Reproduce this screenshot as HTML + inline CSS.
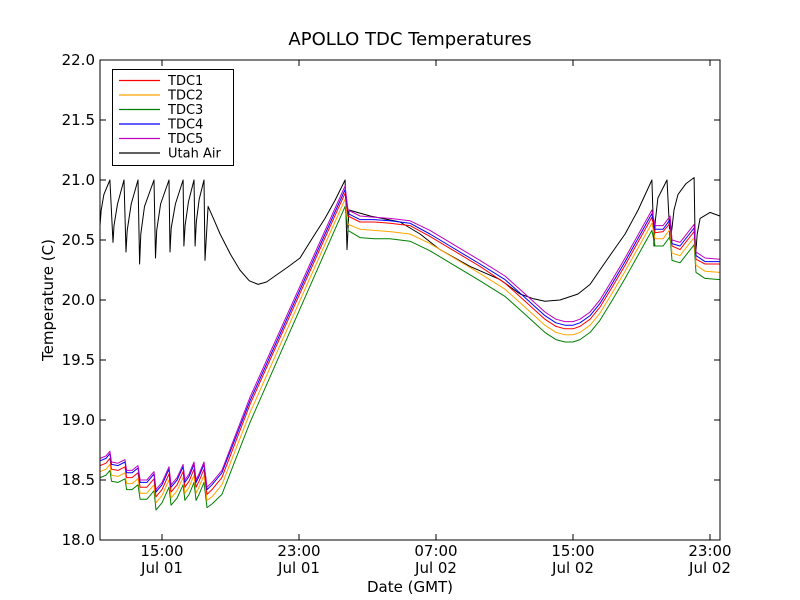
<!DOCTYPE html>
<html><head><meta charset="utf-8"><style>
html,body{margin:0;padding:0;background:#fff;}
svg{display:block;font-family:"DejaVu Sans","Liberation Sans",sans-serif;}
</style></head><body>
<svg id="chart" width="800" height="600" viewBox="0 0 800 600">
<rect width="800" height="600" fill="#fff"/>
<text x="410" y="45" font-size="18" text-anchor="middle">APOLLO TDC Temperatures</text>
<g id="plot"></g>
<rect x="100" y="60" width="620" height="480" fill="none" stroke="#000" stroke-width="1"/>
<g id="axes"></g>
<text x="410" y="592" font-size="15" text-anchor="middle">Date (GMT)</text>
<text transform="translate(53,300) rotate(-90)" font-size="15" text-anchor="middle">Temperature (C)</text>
<g id="legend"></g>
</svg>
<script>
const tdcHours=[11.38,11.73,11.96,12.05,12.43,12.84,12.93,13.25,13.60,13.72,14.12,14.53,14.65,15.00,15.41,15.53,15.88,16.23,16.34,16.58,16.87,16.99,17.16,17.45,17.63,17.92,18.5,20.14,25.69,25.86,26.56,27.4,28.31,29.48,30.65,31.82,33.57,35.03,36.20,37.36,38.0,38.53,39.0,39.41,40.0,40.57,41.3,42.04,43.61,43.79,44.26,44.67,44.78,45.25,46.07,46.18,46.71,47.58];
const tdc5=[18.68,18.70,18.74,18.65,18.64,18.67,18.58,18.58,18.62,18.50,18.50,18.57,18.42,18.48,18.61,18.46,18.52,18.63,18.50,18.55,18.65,18.50,18.55,18.65,18.44,18.48,18.58,19.19,20.95,20.75,20.70,20.69,20.68,20.66,20.58,20.48,20.33,20.20,20.05,19.90,19.84,19.82,19.82,19.84,19.90,20.00,20.17,20.35,20.75,20.62,20.62,20.70,20.50,20.48,20.63,20.40,20.35,20.34];
const tdc4=[18.66,18.68,18.72,18.63,18.62,18.65,18.56,18.56,18.60,18.48,18.48,18.55,18.40,18.46,18.59,18.44,18.50,18.61,18.48,18.53,18.63,18.48,18.53,18.63,18.42,18.46,18.56,19.16,20.92,20.72,20.67,20.67,20.66,20.64,20.55,20.45,20.30,20.17,20.02,19.87,19.81,19.79,19.79,19.81,19.87,19.97,20.14,20.32,20.72,20.59,20.59,20.67,20.47,20.45,20.60,20.37,20.32,20.32];
const tdc1=[18.62,18.64,18.68,18.59,18.58,18.61,18.52,18.52,18.56,18.44,18.44,18.51,18.36,18.42,18.55,18.40,18.46,18.57,18.44,18.49,18.59,18.44,18.49,18.59,18.38,18.42,18.52,19.13,20.89,20.70,20.65,20.65,20.64,20.62,20.53,20.43,20.28,20.14,19.99,19.84,19.78,19.76,19.76,19.78,19.84,19.94,20.11,20.29,20.69,20.56,20.57,20.64,20.45,20.42,20.57,20.34,20.30,20.30];
const tdc2=[18.57,18.59,18.63,18.54,18.53,18.56,18.47,18.47,18.51,18.39,18.39,18.46,18.31,18.37,18.50,18.35,18.41,18.52,18.39,18.44,18.54,18.39,18.44,18.54,18.33,18.36,18.46,19.06,20.84,20.63,20.59,20.58,20.57,20.55,20.47,20.37,20.22,20.09,19.94,19.79,19.73,19.71,19.71,19.73,19.79,19.89,20.06,20.24,20.64,20.51,20.51,20.59,20.39,20.37,20.52,20.29,20.24,20.23];
const tdc3=[18.52,18.54,18.58,18.49,18.48,18.51,18.42,18.42,18.46,18.34,18.34,18.41,18.25,18.31,18.44,18.29,18.35,18.46,18.33,18.38,18.48,18.33,18.38,18.48,18.27,18.30,18.38,18.98,20.78,20.58,20.52,20.51,20.51,20.49,20.41,20.31,20.16,20.03,19.88,19.73,19.67,19.65,19.65,19.67,19.73,19.83,20.00,20.18,20.58,20.45,20.45,20.53,20.33,20.31,20.46,20.23,20.18,20.17];
const airHours=[11.38,11.45,11.61,11.96,12.14,12.20,12.40,12.78,12.90,12.97,13.2,13.60,13.69,13.76,13.98,14.53,14.62,14.69,14.92,15.41,15.47,15.54,15.78,16.23,16.28,16.35,16.55,16.87,16.93,17.0,17.17,17.45,17.51,17.69,18.0,18.39,19.0,19.55,20.1,20.61,21.1,21.60,22.3,23.06,23.8,24.52,25.1,25.69,25.80,25.92,27.15,28.9,30.07,31.23,32.99,34.74,35.91,36.7,37.36,38.24,39.29,40.0,40.57,41.3,42.04,42.8,43.61,43.73,43.8,43.96,44.49,44.67,44.78,44.9,45.13,45.6,46.07,46.15,46.25,46.42,47.00,47.58];
const utahAir=[20.62,20.75,20.88,21.0,20.48,20.62,20.80,21.0,20.40,20.58,20.80,21.0,20.30,20.55,20.78,21.0,20.35,20.58,20.80,21.0,20.40,20.60,20.80,21.0,20.45,20.62,20.82,21.0,20.45,20.65,20.84,21.0,20.33,20.78,20.68,20.55,20.38,20.25,20.16,20.13,20.15,20.2,20.27,20.35,20.52,20.68,20.83,21.0,20.42,20.75,20.70,20.65,20.55,20.42,20.28,20.17,20.05,20.01,19.99,20.0,20.05,20.13,20.25,20.4,20.55,20.75,21.0,20.45,20.65,20.85,21.0,20.5,20.6,20.75,20.88,20.97,21.02,20.35,20.55,20.68,20.73,20.70];
const yTicks=[18.0,18.5,19.0,19.5,20.0,20.5,21.0,21.5,22.0];
const xTickHours=[15,23,31,39,47];
const xTickTimes=["15:00","23:00","07:00","15:00","23:00"];
const xTickDates=["Jul 01","Jul 01","Jul 02","Jul 02","Jul 02"];
const seriesNames=["TDC1","TDC2","TDC3","TDC4","TDC5","Utah Air"];
const seriesColors=["#ff0000","#ffa500","#008000","#0000ff","#bf00bf","#000000"];

const NS="http://www.w3.org/2000/svg";
const X=h=>162+(h-15)*17.125;
const Y=t=>540-(t-18)*120;
function mk(tag,attrs,parent){const e=document.createElementNS(NS,tag);for(const k in attrs)e.setAttribute(k,attrs[k]);parent.appendChild(e);return e;}
const plot=document.getElementById('plot');
const axes=document.getElementById('axes');
const leg=document.getElementById('legend');

const series=[[tdcHours,tdc1],[tdcHours,tdc2],[tdcHours,tdc3],[tdcHours,tdc4],[tdcHours,tdc5],[airHours,utahAir]];
const drawOrder=[5,2,1,0,3,4];
drawOrder.forEach(i=>{
  const [hs,vs]=series[i];
  const d=hs.map((h,j)=>(j?'L':'M')+X(h).toFixed(1)+','+Y(vs[j]).toFixed(1)).join('');
  const p=mk('path',{d:d,fill:'none',stroke:seriesColors[i],'stroke-width':1,'stroke-linejoin':'round'},plot);
  
  
});

yTicks.forEach(t=>{
  const y=Y(t);
  const a=mk('line',{x1:100,x2:106,y1:y,y2:y,stroke:'#000'},axes);
  
  
  const b=mk('line',{x1:714,x2:720,y1:y,y2:y,stroke:'#000'},axes);
  
  
  const tx=mk('text',{x:95,y:y+5,'font-size':15,'text-anchor':'end'},axes);
  tx.textContent=t.toFixed(1);
  
  
});
xTickHours.forEach((h,i)=>{
  const x=X(h);
  const a=mk('line',{x1:x,x2:x,y1:534,y2:540,stroke:'#000'},axes);
  
  
  const b=mk('line',{x1:x,x2:x,y1:60,y2:66,stroke:'#000'},axes);
  
  
  const t1=mk('text',{x:x,y:556,'font-size':15,'text-anchor':'middle'},axes);
  t1.textContent=xTickTimes[i];
  
  
  const t2=mk('text',{x:x,y:573,'font-size':15,'text-anchor':'middle'},axes);
  t2.textContent=xTickDates[i];
  
  
});

const box=mk('rect',{x:112.5,y:69.5,width:121,height:96,fill:'#fff',stroke:'#000'},leg);


seriesNames.forEach((n,i)=>{
  const y=80.5+i*14.5;
  const g=mk('g',{},leg);
  
  
  mk('line',{x1:119,x2:160,y1:y,y2:y,stroke:seriesColors[i],'stroke-width':1.2},g);
  const t=mk('text',{x:168,y:y+4.5,'font-size':13},g);
  t.textContent=n;
});
</script>
</body></html>
